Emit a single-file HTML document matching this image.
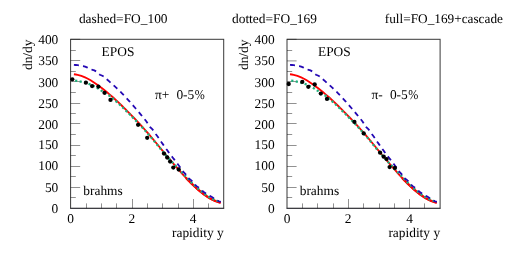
<!DOCTYPE html>
<html><head><meta charset="utf-8"><style>
html,body{margin:0;padding:0;background:#fff;overflow:hidden}
svg{display:block;will-change:transform}
text{font-family:"Liberation Serif",serif;font-size:13.4px;fill:#000;white-space:pre;text-rendering:geometricPrecision}
</style></head><body>
<svg width="516" height="253" viewBox="0 0 516 253">
<rect width="516" height="253" fill="#fff"/>
<text x="78.9" y="22.6">dashed=FO_100</text>
<text x="232" y="22.6">dotted=FO_169</text>
<text x="384.8" y="22.6" style="font-size:13.28px">full=FO_169+cascade</text>
<g transform="translate(0,0)">
<path d="M70.6,197.50h5.2 M70.6,187.50h9.6 M70.6,176.50h5.2 M70.6,166.50h9.6 M70.6,155.50h5.2 M70.6,145.50h9.6 M70.6,134.50h5.2 M70.6,123.50h9.6 M70.6,113.50h5.2 M70.6,103.50h9.6 M70.6,92.50h5.2 M70.6,81.50h9.6 M70.6,71.50h5.2 M70.6,60.50h9.6 M70.6,50.50h5.2 M70.6,39.30h9.6 M86.50,208.3v-4.9 M101.50,208.3v-4.9 M116.50,208.3v-4.9 M132.50,208.3v-9.3 M147.50,208.3v-4.9 M162.50,208.3v-4.9 M178.50,208.3v-4.9 M193.50,208.3v-9.3 M208.50,208.3v-4.9" fill="none" stroke="#000" stroke-opacity="0.62" stroke-width="0.7"/>
<g transform="translate(0,0)">
<path d="M73.90,74.29 L75.76,74.50 L77.61,74.84 L79.47,75.30 L81.33,75.88 L83.18,76.57 L85.04,77.36 L86.90,78.25 L88.76,79.23 L90.61,80.30 L92.47,81.45 L94.33,82.68 L96.18,83.96 L98.04,85.30 L99.90,86.68 L101.75,88.09 L103.61,89.53 L105.47,91.01 L107.33,92.54 L109.18,94.10 L111.04,95.69 L112.90,97.32 L114.75,98.98 L116.61,100.70 L118.47,102.45 L120.32,104.22 L122.18,106.02 L124.04,107.84 L125.89,109.69 L127.75,111.56 L129.61,113.45 L131.47,115.34 L133.32,117.26 L135.18,119.20 L137.04,121.17 L138.89,123.16 L140.75,125.17 L142.61,127.20 L144.46,129.25 L146.32,131.34 L148.18,133.46 L150.04,135.61 L151.89,137.79 L153.75,140.00 L155.61,142.23 L157.46,144.48 L159.32,146.75 L161.18,149.03 L163.03,151.31 L164.89,153.60 L166.75,155.82 L168.61,158.02 L170.46,160.21 L172.32,162.40 L174.18,164.56 L176.03,166.72 L177.89,168.87 L179.75,170.98 L181.60,173.06 L183.46,175.11 L185.32,177.12 L187.17,179.13 L189.03,181.10 L190.89,183.01 L192.75,184.86 L194.60,186.64 L196.46,188.37 L198.32,190.02 L200.17,191.59 L202.03,193.09 L203.89,194.51 L205.74,195.83 L207.60,197.07 L209.46,198.21 L211.32,199.26 L213.17,200.19 L215.03,201.03 L216.89,201.75 L218.74,202.35 L220.60,202.84" fill="none" stroke="#ff0000" stroke-width="1.85"/>
<path d="M186.00,177.87 L187.19,179.12 L188.39,180.35 L189.58,181.57 L190.77,182.76 L191.97,183.92 L193.16,185.06 L194.35,186.17 L195.54,187.28 L196.74,188.36 L197.93,189.42 L199.12,190.45 L200.32,191.45 L201.51,192.42 L202.70,193.35 L203.90,194.25 L205.09,195.11 L206.28,195.93 L207.48,196.72 L208.67,197.46 L209.86,198.17 L211.06,198.83 L212.25,199.46 L213.44,200.04 L214.63,200.57 L215.83,201.06 L217.02,201.50 L218.21,201.90 L219.41,202.24 L220.60,202.54" fill="none" stroke="#ff0000" stroke-width="2.25"/>
<path d="M75.10,80.55 L76.94,80.84 L78.78,81.17 L80.63,81.56 L82.47,82.00 L84.31,82.49 L86.15,83.03 L87.99,83.63 L89.83,84.29 L91.68,85.06 L93.52,85.96 L95.36,86.94 L97.20,87.97 L99.04,89.09 L100.88,90.33 L102.73,91.53 L104.57,92.73 L106.41,93.92 L108.25,95.12 L110.09,96.07 L111.94,97.65 L113.78,99.27 L115.62,100.91 L117.46,102.58 L119.30,104.28 L121.14,106.01 L122.99,107.76 L124.83,109.53 L126.67,111.32 L128.51,113.14 L130.35,114.98 L132.19,116.84 L134.04,118.72 L135.88,120.63 L137.72,122.56 L139.56,124.52 L141.40,126.50 L143.25,128.52 L145.09,130.56 L146.93,132.63 L148.77,134.74 L150.61,136.87 L152.45,139.04 L154.30,141.23 L156.14,143.45 L157.98,145.68 L159.82,147.93 L161.66,150.18 L163.51,152.45 L165.35,154.67 L167.19,156.71 L169.03,158.75 L170.87,160.78 L172.71,162.79 L174.56,164.79 L176.40,166.76 L178.24,168.71 L180.08,170.63 L181.92,172.51 L183.76,174.36 L185.61,176.24 L187.45,178.24 L189.29,180.19 L191.13,182.08 L192.97,183.92 L194.82,185.69 L196.66,187.40 L198.50,189.04 L200.34,190.61 L202.18,192.10 L204.02,193.50 L205.87,194.82 L207.71,196.05 L209.55,197.19 L211.39,198.23 L213.23,199.16 L215.07,200.00 L216.92,200.72 L218.76,201.32 L220.60,201.81" fill="none" stroke="#20b07c" stroke-width="2.3" stroke-dasharray="2.2 2.4"/>
<path d="M73.90,64.85 L75.76,65.01 L77.62,65.17 L79.48,65.37 L81.34,65.65 L83.20,66.04 L85.06,66.59 L86.92,67.34 L88.78,68.31 L90.64,69.24 L92.49,69.82 L94.35,70.36 L96.21,71.46 L98.07,73.29 L99.93,74.74 L101.79,75.53 L103.65,76.40 L105.51,77.94 L107.37,79.76 L109.23,81.44 L111.09,83.07 L112.95,84.72 L114.81,86.41 L116.67,88.14 L118.53,89.91 L120.39,91.73 L122.25,93.61 L124.11,95.54 L125.97,97.52 L127.83,99.54 L129.68,101.60 L131.54,103.70 L133.40,105.83 L135.26,107.99 L137.12,110.17 L138.98,112.38 L140.84,114.60 L142.70,116.84 L144.56,119.10 L146.42,121.49 L148.28,124.42 L150.14,127.15 L152.00,128.95 L153.86,131.09 L155.72,133.97 L157.58,136.43 L159.44,139.05 L161.30,141.92 L163.16,144.62 L165.02,147.21 L166.87,149.81 L168.73,152.39 L170.59,154.84 L172.45,157.22 L174.31,159.66 L176.17,162.19 L178.03,164.53 L179.89,166.93 L181.75,169.85 L183.61,172.17 L185.47,174.15 L187.33,176.80 L189.19,178.83 L191.05,180.13 L192.91,182.03 L194.77,184.53 L196.63,186.15 L198.49,187.37 L200.35,188.98 L202.21,190.72 L204.06,192.23 L205.92,193.52 L207.78,194.66 L209.64,195.72 L211.50,196.78 L213.36,197.91 L215.22,199.16 L217.08,200.37 L218.94,201.33 L220.80,201.81" fill="none" stroke="#2408b4" stroke-width="1.8" stroke-dasharray="5.0 4.2"/>
</g>
<circle cx="72.3" cy="79.3" r="2.15" fill="#000"/>
<circle cx="85.9" cy="82.7" r="2.15" fill="#000"/>
<circle cx="92.1" cy="86.1" r="2.15" fill="#000"/>
<circle cx="98.4" cy="86.6" r="2.15" fill="#000"/>
<circle cx="104.5" cy="92.8" r="2.15" fill="#000"/>
<circle cx="110.5" cy="99.9" r="2.15" fill="#000"/>
<circle cx="138.1" cy="124.8" r="2.15" fill="#000"/>
<circle cx="147.2" cy="137.8" r="2.15" fill="#000"/>
<circle cx="164.0" cy="153.6" r="2.15" fill="#000"/>
<circle cx="167.2" cy="157.5" r="2.15" fill="#000"/>
<circle cx="170.1" cy="161.6" r="2.15" fill="#000"/>
<circle cx="173.3" cy="167.6" r="2.15" fill="#000"/>
<circle cx="178.7" cy="169.5" r="2.15" fill="#000"/>
<rect x="70.6" y="39.3" width="153.1" height="169.0" fill="none" stroke="#000" stroke-opacity="0.78" stroke-width="1"/>
<path d="M70.1,208.3H224.2" fill="none" stroke="#001" stroke-opacity="0.45" stroke-width="1"/>
<text x="58.3" y="212.9" text-anchor="end">0</text>
<text x="58.3" y="192.0" text-anchor="end">50</text>
<text x="58.3" y="170.2" text-anchor="end">100</text>
<text x="58.3" y="149.1" text-anchor="end">150</text>
<text x="58.3" y="128.95" text-anchor="end">200</text>
<text x="58.3" y="107.75" text-anchor="end">250</text>
<text x="58.3" y="86.7" text-anchor="end">300</text>
<text x="58.3" y="65.3" text-anchor="end">350</text>
<text x="58.3" y="43.9" text-anchor="end">400</text>
<text x="70.6" y="223.4" text-anchor="middle">0</text>
<text x="131.8" y="223.4" text-anchor="middle">2</text>
<text x="193.1" y="223.4" text-anchor="middle">4</text>
<text x="223.7" y="236.5" text-anchor="end">rapidity y</text>
<text transform="translate(31.8,39.5) rotate(-90)" text-anchor="end">dn/dy</text>
<text x="101.6" y="56">EPOS</text>
<text x="155.0" y="98.6">π+</text>
<text x="176.4" y="98.6">0-5</text>
<text transform="translate(194.8,98.6) scale(0.9,1)">%</text>
<text x="83.3" y="194.9">brahms</text>
</g>
<g transform="translate(216.4,0)">
<path d="M70.6,197.50h5.2 M70.6,187.50h9.6 M70.6,176.50h5.2 M70.6,166.50h9.6 M70.6,155.50h5.2 M70.6,145.50h9.6 M70.6,134.50h5.2 M70.6,123.50h9.6 M70.6,113.50h5.2 M70.6,103.50h9.6 M70.6,92.50h5.2 M70.6,81.50h9.6 M70.6,71.50h5.2 M70.6,60.90h9.6 M70.6,50.50h5.2 M70.6,39.30h9.6 M86.10,208.3v-4.9 M101.10,208.3v-4.9 M117.10,208.3v-4.9 M132.10,208.3v-9.3 M147.10,208.3v-4.9 M163.10,208.3v-4.9 M178.10,208.3v-4.9 M193.10,208.3v-9.3 M208.10,208.3v-4.9" fill="none" stroke="#000" stroke-opacity="0.62" stroke-width="0.7"/>
<g transform="translate(-0.3,0)">
<path d="M73.90,74.29 L75.76,74.50 L77.61,74.84 L79.47,75.30 L81.33,75.88 L83.18,76.57 L85.04,77.36 L86.90,78.25 L88.76,79.23 L90.61,80.30 L92.47,81.45 L94.33,82.68 L96.18,83.96 L98.04,85.30 L99.90,86.68 L101.75,88.09 L103.61,89.53 L105.47,91.01 L107.33,92.54 L109.18,94.10 L111.04,95.69 L112.90,97.32 L114.75,98.98 L116.61,100.70 L118.47,102.45 L120.32,104.22 L122.18,106.02 L124.04,107.84 L125.89,109.69 L127.75,111.56 L129.61,113.45 L131.47,115.34 L133.32,117.26 L135.18,119.20 L137.04,121.17 L138.89,123.16 L140.75,125.17 L142.61,127.20 L144.46,129.25 L146.32,131.34 L148.18,133.46 L150.04,135.61 L151.89,137.79 L153.75,140.00 L155.61,142.23 L157.46,144.48 L159.32,146.75 L161.18,149.03 L163.03,151.31 L164.89,153.60 L166.75,155.82 L168.61,158.02 L170.46,160.21 L172.32,162.40 L174.18,164.56 L176.03,166.72 L177.89,168.87 L179.75,170.98 L181.60,173.06 L183.46,175.11 L185.32,177.12 L187.17,179.13 L189.03,181.10 L190.89,183.01 L192.75,184.86 L194.60,186.64 L196.46,188.37 L198.32,190.02 L200.17,191.59 L202.03,193.09 L203.89,194.51 L205.74,195.83 L207.60,197.07 L209.46,198.21 L211.32,199.26 L213.17,200.19 L215.03,201.03 L216.89,201.75 L218.74,202.35 L220.60,202.84" fill="none" stroke="#ff0000" stroke-width="1.85"/>
<path d="M186.00,177.87 L187.19,179.12 L188.39,180.35 L189.58,181.57 L190.77,182.76 L191.97,183.92 L193.16,185.06 L194.35,186.17 L195.54,187.28 L196.74,188.36 L197.93,189.42 L199.12,190.45 L200.32,191.45 L201.51,192.42 L202.70,193.35 L203.90,194.25 L205.09,195.11 L206.28,195.93 L207.48,196.72 L208.67,197.46 L209.86,198.17 L211.06,198.83 L212.25,199.46 L213.44,200.04 L214.63,200.57 L215.83,201.06 L217.02,201.50 L218.21,201.90 L219.41,202.24 L220.60,202.54" fill="none" stroke="#ff0000" stroke-width="2.25"/>
<path d="M75.10,80.55 L76.94,80.84 L78.78,81.17 L80.63,81.56 L82.47,82.00 L84.31,82.49 L86.15,83.03 L87.99,83.63 L89.83,84.29 L91.68,85.06 L93.52,85.96 L95.36,86.94 L97.20,87.97 L99.04,89.09 L100.88,90.33 L102.73,91.53 L104.57,92.73 L106.41,93.92 L108.25,95.12 L110.09,96.07 L111.94,97.65 L113.78,99.27 L115.62,100.91 L117.46,102.58 L119.30,104.28 L121.14,106.01 L122.99,107.76 L124.83,109.53 L126.67,111.32 L128.51,113.14 L130.35,114.98 L132.19,116.84 L134.04,118.72 L135.88,120.63 L137.72,122.56 L139.56,124.52 L141.40,126.50 L143.25,128.52 L145.09,130.56 L146.93,132.63 L148.77,134.74 L150.61,136.87 L152.45,139.04 L154.30,141.23 L156.14,143.45 L157.98,145.68 L159.82,147.93 L161.66,150.18 L163.51,152.45 L165.35,154.67 L167.19,156.71 L169.03,158.75 L170.87,160.78 L172.71,162.79 L174.56,164.79 L176.40,166.76 L178.24,168.71 L180.08,170.63 L181.92,172.51 L183.76,174.36 L185.61,176.24 L187.45,178.24 L189.29,180.19 L191.13,182.08 L192.97,183.92 L194.82,185.69 L196.66,187.40 L198.50,189.04 L200.34,190.61 L202.18,192.10 L204.02,193.50 L205.87,194.82 L207.71,196.05 L209.55,197.19 L211.39,198.23 L213.23,199.16 L215.07,200.00 L216.92,200.72 L218.76,201.32 L220.60,201.81" fill="none" stroke="#20b07c" stroke-width="2.3" stroke-dasharray="2.2 2.4"/>
<path d="M73.90,64.85 L75.76,65.01 L77.62,65.17 L79.48,65.37 L81.34,65.65 L83.20,66.04 L85.06,66.59 L86.92,67.34 L88.78,68.31 L90.64,69.24 L92.49,69.82 L94.35,70.36 L96.21,71.46 L98.07,73.29 L99.93,74.74 L101.79,75.53 L103.65,76.40 L105.51,77.94 L107.37,79.76 L109.23,81.44 L111.09,83.07 L112.95,84.72 L114.81,86.41 L116.67,88.14 L118.53,89.91 L120.39,91.73 L122.25,93.61 L124.11,95.54 L125.97,97.52 L127.83,99.54 L129.68,101.60 L131.54,103.70 L133.40,105.83 L135.26,107.99 L137.12,110.17 L138.98,112.38 L140.84,114.60 L142.70,116.84 L144.56,119.10 L146.42,121.49 L148.28,124.42 L150.14,127.15 L152.00,128.95 L153.86,131.09 L155.72,133.97 L157.58,136.43 L159.44,139.05 L161.30,141.92 L163.16,144.62 L165.02,147.21 L166.87,149.81 L168.73,152.39 L170.59,154.84 L172.45,157.22 L174.31,159.66 L176.17,162.19 L178.03,164.53 L179.89,166.93 L181.75,169.85 L183.61,172.17 L185.47,174.15 L187.33,176.80 L189.19,178.83 L191.05,180.13 L192.91,182.03 L194.77,184.53 L196.63,186.15 L198.49,187.37 L200.35,188.98 L202.21,190.72 L204.06,192.23 L205.92,193.52 L207.78,194.66 L209.64,195.72 L211.50,196.78 L213.36,197.91 L215.22,199.16 L217.08,200.37 L218.94,201.33 L220.80,201.81" fill="none" stroke="#2408b4" stroke-width="1.8" stroke-dasharray="5.0 4.2"/>
</g>
<circle cx="72.3" cy="84.0" r="2.15" fill="#000"/>
<circle cx="85.9" cy="81.9" r="2.15" fill="#000"/>
<circle cx="91.9" cy="86.8" r="2.15" fill="#000"/>
<circle cx="98.3" cy="84.5" r="2.15" fill="#000"/>
<circle cx="104.4" cy="93.6" r="2.15" fill="#000"/>
<circle cx="110.6" cy="98.9" r="2.15" fill="#000"/>
<circle cx="138.0" cy="121.9" r="2.15" fill="#000"/>
<circle cx="147.3" cy="133.4" r="2.15" fill="#000"/>
<circle cx="163.7" cy="152.7" r="2.15" fill="#000"/>
<circle cx="167.3" cy="156.7" r="2.15" fill="#000"/>
<circle cx="170.2" cy="159.1" r="2.15" fill="#000"/>
<circle cx="173.2" cy="167.1" r="2.15" fill="#000"/>
<circle cx="178.5" cy="167.9" r="2.15" fill="#000"/>
<rect x="70.6" y="39.3" width="153.1" height="169.0" fill="none" stroke="#000" stroke-opacity="0.78" stroke-width="1"/>
<path d="M70.1,208.3H224.2" fill="none" stroke="#001" stroke-opacity="0.45" stroke-width="1"/>
<text x="58.3" y="212.9" text-anchor="end">0</text>
<text x="58.3" y="192.0" text-anchor="end">50</text>
<text x="58.3" y="170.2" text-anchor="end">100</text>
<text x="58.3" y="149.1" text-anchor="end">150</text>
<text x="58.3" y="128.95" text-anchor="end">200</text>
<text x="58.3" y="107.75" text-anchor="end">250</text>
<text x="58.3" y="86.7" text-anchor="end">300</text>
<text x="58.3" y="65.3" text-anchor="end">350</text>
<text x="58.3" y="43.9" text-anchor="end">400</text>
<text x="70.6" y="223.4" text-anchor="middle">0</text>
<text x="131.8" y="223.4" text-anchor="middle">2</text>
<text x="193.1" y="223.4" text-anchor="middle">4</text>
<text x="223.7" y="236.5" text-anchor="end">rapidity y</text>
<text transform="translate(31.8,39.5) rotate(-90)" text-anchor="end">dn/dy</text>
<text x="101.6" y="56">EPOS</text>
<text x="155.0" y="98.6">π-</text>
<text x="173.5" y="98.6">0-5</text>
<text transform="translate(191.9,98.6) scale(0.9,1)">%</text>
<text x="83.3" y="194.9">brahms</text>
</g>
</svg>
</body></html>
